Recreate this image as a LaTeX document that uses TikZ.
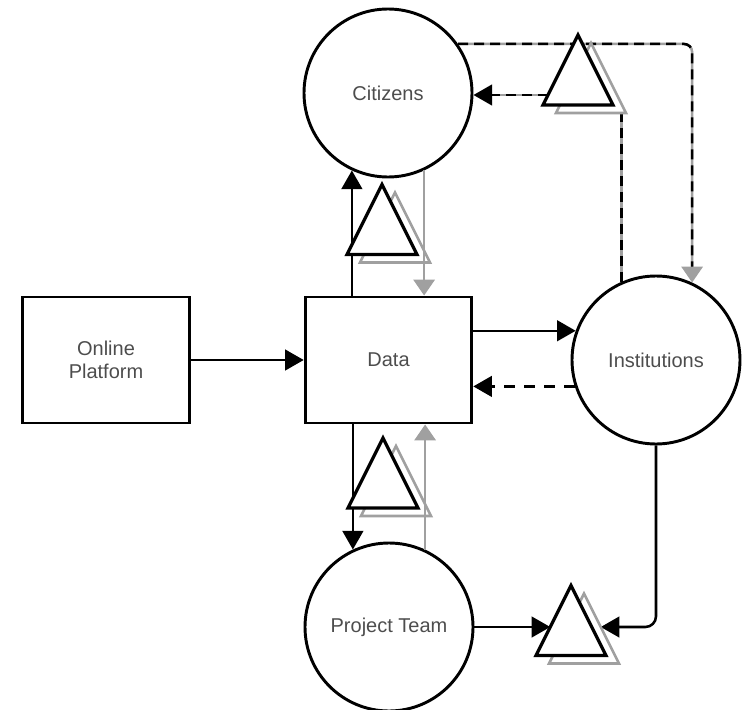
\documentclass[tikz,border=0pt]{standalone}
\usepackage{fontspec}
\setmainfont{Liberation Sans}
\usetikzlibrary{arrows.meta,calc}
\definecolor{labelgray}{HTML}{4D4D4D}
\definecolor{linegray}{HTML}{A0A0A0}
\tikzset{
  lbl/.style={font=\fontsize{15pt}{17.5pt}\selectfont, text=labelgray, align=center},
  box/.style={lbl, draw, line width=2.2pt, minimum width=125pt, minimum height=94.5pt, inner sep=0pt},
  role/.style={lbl, circle, draw, line width=2.2pt, minimum size=126pt, inner sep=0pt},
  tip/.style={-{Triangle[length=14pt,width=15.5pt]}},
  arr/.style={line width=1.9pt, tip},
  garr/.style={line width=1.9pt, draw=linegray, -{Triangle[length=12pt,width=16pt]}},
  blackdash/.style={line width=1.9pt, dash pattern=on 7.5pt off 4.5pt},
  greyline/.style={line width=1.9pt, draw=linegray},
  % a black triangle with a grey copy set behind it, down and to the right
  pics/twintri/.style={code={
    \draw[linegray, line width=2pt] (-22,43) -- (13,-27) -- (48,43) -- cycle;
    \draw[black, line width=2.4pt, fill=white] (-35,35) -- (0,-35) -- (35,35) -- cycle;
  }}
}
\begin{document}
\begin{tikzpicture}[x=0.75pt, y=-0.75pt]
\useasboundingbox (0,0) rectangle (746,710);

% entities
\node[box]  (plat) at (106,360)   {Online\\Platform};
\node[box]  (data) at (388.5,360) {Data};
\node[role] (cit)  at (388,93)    {Citizens};
\node[role] (inst) at (656,360)   {Institutions};
\node[role] (team) at (389,627)   {Project Team};

% triangle positions and the points where flows meet them
\coordinate (p1) at (578,70);
\coordinate (p2) at (382,219.5);
\coordinate (p3) at (383,473);
\coordinate (p4) at (571,620.5);
\coordinate (t1-gb) at ($(p1)+(0,43)$);
\coordinate (t1-lu) at ($(p1)+(-30,25)$);
\coordinate (t4-lo) at ($(p4)+(-20.75,6.5)$);
\coordinate (t4-ro) at ($(p4)+(29.75,6.5)$);

% solid flows
\draw[arr] (plat.east) -- (data.west);
\draw[arr] (data.east |- inst.160) -- (inst.160);
\draw[arr] (cit.245 |- data.north) -- (cit.245);
\draw[arr] (team.115 |- data.south) -- (team.115);
\draw[garr] (cit.295) -- (cit.295 |- data.north);
\draw[garr] (team.65) -- (team.65 |- data.south);
\draw[arr, dash pattern=on 8pt off 7pt] (inst.198) -- (data.east |- inst.198);

% bottom flows into the triangle
\draw[arr] (team.east) -- (team.east -| t4-lo);
\draw[arr, rounded corners=8pt] (inst.south) |- (team.east -| t4-ro);

% feedback loop between citizens and institutions
\draw[greyline, rounded corners=6pt, -{Triangle[length=12pt,width=16pt]}, linegray]
  (cit.35) -| (inst.65);
\draw[blackdash, rounded corners=6pt, shorten >=12pt] (cit.35) -| (inst.65);
\draw[greyline] (inst.114) -- (inst.114 |- t1-gb);
\draw[blackdash] (inst.114) -- (inst.114 |- t1-gb);
\draw[greyline, shorten >=8pt] (t1-lu) -- (t1-lu -| cit.east);
\draw[blackdash, tip] (t1-lu) -- (t1-lu -| cit.east);

% triangles, drawn over the lines
\pic at (p1) {twintri};
\pic at (p2) {twintri};
\pic at (p3) {twintri};
\pic at (p4) {twintri};
\end{tikzpicture}
\end{document}
